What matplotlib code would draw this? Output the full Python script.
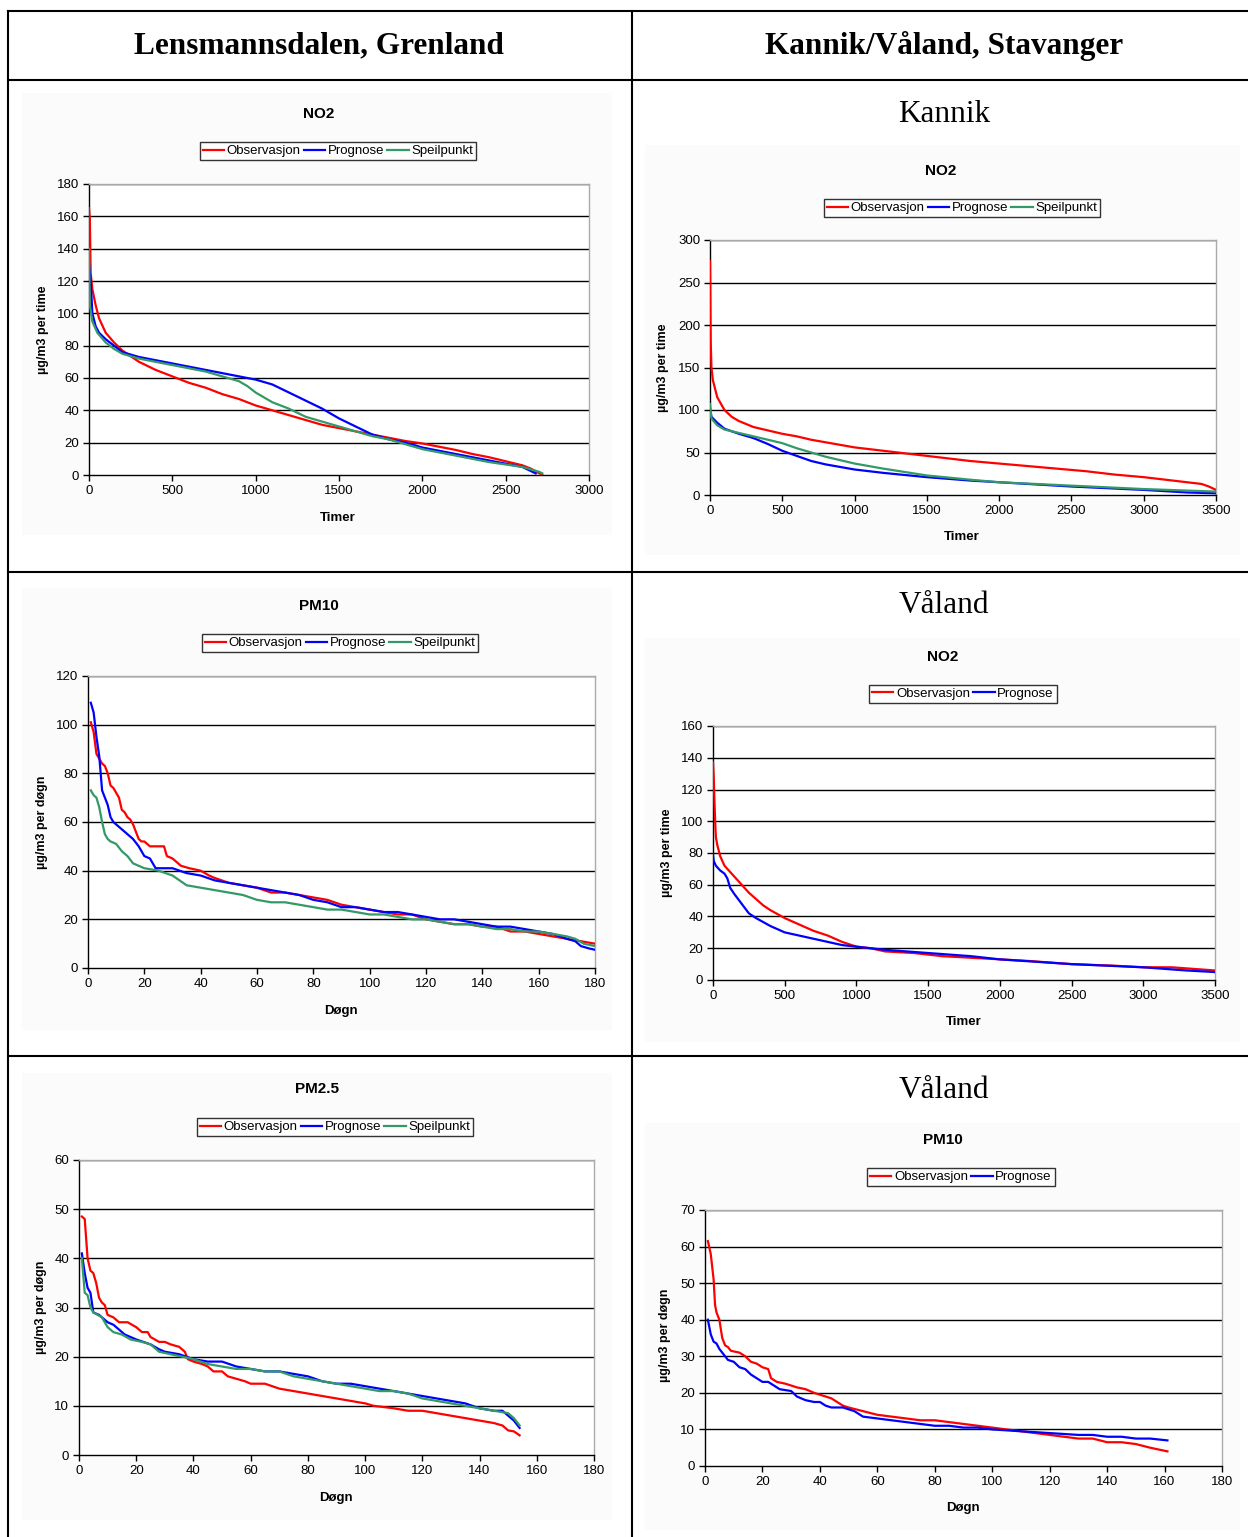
import matplotlib
matplotlib.use("Agg")
import matplotlib.pyplot as plt
from matplotlib.lines import Line2D
from matplotlib.patches import Rectangle

# ---------------- DATA ----------------
# Panel 1: Lensmannsdalen NO2 (Timer)
p1_obs_x = [0, 5, 10, 20, 40, 60, 100, 150, 200, 300, 400, 500, 600, 700, 800, 900, 1000, 1100, 1200, 1300, 1400, 1500, 1600, 1700, 1800, 1900, 2000, 2100, 2200, 2300, 2400, 2500, 2600, 2650, 2720]
p1_obs_y = [165, 158, 125, 115, 105, 97, 88, 82, 77, 70, 65, 61, 57, 54, 50, 47, 43, 40, 37, 34, 31, 29, 27, 25, 23, 21, 19.5, 17.5, 15.5, 13, 11, 8.5, 6, 4, 0]
p1_pro_x = [0, 10, 20, 40, 60, 100, 150, 200, 300, 400, 500, 600, 700, 800, 900, 1000, 1100, 1200, 1300, 1400, 1500, 1600, 1700, 1800, 1900, 2000, 2100, 2200, 2300, 2400, 2500, 2600, 2680]
p1_pro_y = [130, 120, 100, 92, 88, 84, 80, 76, 73, 71, 69, 67, 65, 63, 61, 59, 56, 51, 46, 41, 35, 30, 25, 22, 20, 17, 15, 13, 11, 9, 7, 5, 1]
p1_spe_x = [0, 5, 20, 50, 100, 150, 200, 300, 400, 500, 600, 700, 800, 900, 950, 1000, 1100, 1200, 1300, 1400, 1500, 1600, 1700, 1800, 1900, 2000, 2100, 2200, 2300, 2400, 2500, 2600, 2700, 2720]
p1_spe_y = [140, 105, 95, 88, 82, 78, 75, 72, 70, 68, 66, 64, 61, 58, 55, 51, 45, 41, 36, 33, 30, 27, 24, 22, 19, 16, 14, 12, 10, 8, 6.5, 5, 2, 1]

# Panel 2: Kannik NO2 (Timer)
p2_obs_x = [0, 5, 10, 20, 50, 100, 150, 200, 300, 400, 500, 600, 700, 800, 900, 1000, 1200, 1400, 1600, 1800, 2000, 2200, 2400, 2600, 2800, 3000, 3200, 3400, 3450, 3500]
p2_obs_y = [275, 180, 150, 135, 115, 100, 92, 87, 80, 76, 72, 69, 65, 62, 59, 56, 52, 48, 44, 40, 37, 34, 31, 28, 24, 21, 17, 13, 10, 6]
p2_pro_x = [0, 10, 50, 100, 200, 300, 400, 500, 600, 700, 800, 1000, 1200, 1500, 1800, 2000, 2500, 3000, 3300, 3500]
p2_pro_y = [102, 92, 85, 78, 72, 67, 60, 52, 46, 40, 36, 30, 26, 21, 17, 15, 10, 6, 3, 2]
p2_spe_x = [0, 10, 50, 100, 200, 300, 400, 500, 600, 700, 800, 1000, 1200, 1500, 1800, 2000, 2500, 3000, 3500]
p2_spe_y = [107, 90, 82, 77, 73, 69, 65, 61, 55, 50, 45, 37, 31, 23, 18, 15, 11, 7, 4]

# Panel 3: Lensmannsdalen PM10 (Døgn)
p3_obs_x = [1, 2, 3, 4, 5, 6, 7, 8, 9, 10, 11, 12, 13, 14, 15, 16, 17, 18, 19, 20, 22, 27, 28, 30, 33, 36, 40, 43, 45, 50, 55, 60, 65, 70, 75, 80, 85, 90, 95, 100, 105, 110, 115, 120, 125, 130, 135, 140, 145, 150, 155, 160, 165, 170, 175, 180]
p3_obs_y = [101, 97, 88, 86, 84, 83, 80, 75, 74, 72, 70, 65, 64, 62, 61, 59, 56, 53, 52, 52, 50, 50, 46, 45, 42, 41, 40, 38, 37, 35, 34, 33, 31, 31, 30, 29, 28, 26, 25, 24, 23, 22, 22, 20, 19, 18, 18, 17, 17, 15, 15, 14, 13, 12, 11, 10]
p3_pro_x = [1, 2, 3, 4, 5, 6, 7, 8, 9, 10, 12, 14, 16, 18, 20, 22, 24, 26, 28, 30, 35, 40, 45, 50, 55, 60, 65, 70, 75, 80, 85, 90, 95, 100, 105, 110, 115, 120, 125, 130, 135, 140, 145, 150, 155, 160, 165, 170, 173, 175, 178, 180]
p3_pro_y = [109, 105, 95, 87, 73, 70, 67, 62, 60, 59, 57, 55, 53, 50, 46, 45, 41, 41, 41, 41, 39, 38, 36, 35, 34, 33, 32, 31, 30, 28, 27, 25, 25, 24, 23, 23, 22, 21, 20, 20, 19, 18, 17, 17, 16, 15, 14, 12, 11, 9, 8, 7.5]
p3_spe_x = [1, 2, 3, 4, 5, 6, 7, 8, 10, 12, 14, 16, 18, 20, 25, 30, 35, 40, 45, 50, 55, 60, 65, 70, 75, 80, 85, 90, 95, 100, 105, 110, 115, 120, 125, 130, 135, 140, 145, 150, 155, 160, 165, 170, 173, 176, 180]
p3_spe_y = [73, 71, 70, 66, 60, 55, 53, 52, 51, 48, 46, 43, 42, 41, 40, 38, 34, 33, 32, 31, 30, 28, 27, 27, 26, 25, 24, 24, 23, 22, 22, 21, 20, 20, 19, 18, 18, 17, 16, 16, 15, 15, 14, 13, 12, 10, 9]

# Panel 4: Våland NO2 (Timer)
p4_obs_x = [0, 5, 10, 15, 20, 30, 50, 80, 100, 150, 200, 250, 300, 350, 400, 500, 600, 700, 800, 900, 1000, 1100, 1200, 1400, 1600, 1800, 2000, 2200, 2500, 2800, 3000, 3200, 3500]
p4_obs_y = [137, 128, 113, 100, 90, 85, 78, 72, 70, 65, 60, 55, 51, 47, 44, 39, 35, 31, 28, 24, 21, 20, 18, 17, 15, 14, 13, 12, 10, 9, 8, 8, 6]
p4_pro_x = [0, 5, 20, 50, 80, 100, 120, 150, 200, 250, 300, 400, 500, 600, 700, 800, 900, 1000, 1200, 1500, 1800, 2000, 2500, 3000, 3300, 3500]
p4_pro_y = [79, 75, 72, 69, 67, 64, 58, 54, 48, 42, 39, 34, 30, 28, 26, 24, 22, 21, 19, 17, 15, 13, 10, 8, 6, 5]

# Panel 5: Lensmannsdalen PM2.5 (Døgn)
p5_obs_x = [1, 2, 3, 4, 5, 6, 7, 8, 9, 10, 12, 14, 17, 20, 22, 24, 25, 28, 30, 32, 35, 37, 38, 40, 43, 45, 47, 50, 52, 55, 58, 60, 65, 70, 75, 80, 85, 90, 95, 100, 103, 110, 115, 120, 125, 130, 135, 140, 145, 148, 150, 152, 154]
p5_obs_y = [48.5, 48, 40, 37.5, 37, 35, 32, 31, 30.5, 28.5, 28, 27, 27, 26, 25, 25, 24, 23, 23, 22.5, 22, 21, 19.5, 19, 18.5, 18, 17, 17, 16, 15.5, 15, 14.5, 14.5, 13.5, 13, 12.5, 12, 11.5, 11, 10.5, 10, 9.5, 9, 9, 8.5, 8, 7.5, 7, 6.5, 6, 5, 4.8, 4]
p5_pro_x = [1, 2, 3, 4, 5, 7, 10, 12, 14, 16, 18, 20, 25, 28, 30, 35, 40, 45, 50, 55, 60, 65, 70, 75, 80, 85, 90, 95, 100, 105, 110, 115, 120, 125, 130, 135, 140, 145, 148, 150, 152, 154]
p5_pro_y = [41, 37, 34, 33, 29, 28.5, 27, 26.5, 25.5, 24.5, 24, 23.5, 22.5, 21.5, 21, 20.5, 19.5, 19, 19, 18, 17.5, 17, 17, 16.5, 16, 15, 14.5, 14.5, 14, 13.5, 13, 12.5, 12, 11.5, 11, 10.5, 9.5, 9, 9, 8, 7, 5.5]
p5_spe_x = [1, 2, 3, 4, 5, 8, 10, 12, 15, 18, 22, 25, 28, 32, 36, 40, 45, 50, 55, 60, 65, 70, 75, 80, 85, 90, 95, 100, 105, 110, 115, 120, 125, 130, 135, 140, 145, 150, 152, 154]
p5_spe_y = [40, 33, 32.5, 30, 29, 28, 26, 25, 24.5, 23.5, 23, 22.5, 21, 20.5, 20, 19.5, 18.5, 18, 17.5, 17.5, 17, 17, 16, 15.5, 15, 14.5, 14, 13.5, 13, 13, 12.5, 11.5, 11, 10.5, 10, 9.5, 9, 8.5, 7.5, 6]

# Panel 6: Våland PM10 (Døgn)
p6_obs_x = [1, 2, 3, 3.5, 4, 5, 6, 7, 8, 9, 12, 14, 16, 18, 20, 22, 23, 25, 28, 30, 32, 35, 38, 40, 42, 44, 46, 48, 50, 55, 60, 65, 70, 75, 80, 85, 90, 95, 100, 105, 110, 115, 120, 125, 130, 135, 140, 145, 150, 155, 158, 161]
p6_obs_y = [61.5, 58, 51, 44, 42, 40, 35, 33, 32.5, 31.5, 31, 30, 28.5, 28, 27, 26.5, 24, 23, 22.5, 22, 21.5, 21, 20, 19.5, 19, 18.5, 17.5, 16.5, 16, 15, 14, 13.5, 13, 12.5, 12.5, 12, 11.5, 11, 10.5, 10, 9.5, 9, 8.5, 8, 7.5, 7.5, 6.5, 6.5, 6, 5, 4.5, 4]
p6_pro_x = [1, 2, 3, 4, 5, 6, 7, 8, 10, 12, 14, 16, 18, 20, 22, 24, 26, 30, 32, 35, 38, 40, 42, 44, 48, 50, 52, 55, 60, 65, 70, 75, 80, 85, 90, 95, 100, 110, 120, 130, 135, 140, 145, 150, 155, 161]
p6_pro_y = [40, 36, 34, 33.5, 32, 31, 30, 29, 28.5, 27, 26.5, 25, 24, 23, 23, 22, 21, 20.5, 19, 18, 17.5, 17.5, 16.5, 16, 16, 15.5, 15, 13.5, 13, 12.5, 12, 11.5, 11, 11, 10.5, 10.5, 10, 9.5, 9, 8.5, 8.5, 8, 8, 7.5, 7.5, 7]

labels = ["Observasjon", "Prognose", "Speilpunkt"]
colors = ["#ff0000", "#0000ff", "#339966"]

# ---------------- LAYOUT ----------------
W, H = 1248, 1537
fig = plt.figure(figsize=(W / 100, H / 100), dpi=100)
fig.patch.set_facecolor("white")
SANS = ["Liberation Sans", "DejaVu Sans"]
SERIF = ["Liberation Serif", "DejaVu Serif"]


def fx(x):
    return x / W


def fy(y):
    return 1 - y / H


def hline(y, x0, x1, lw=1.5):
    fig.add_artist(Line2D([fx(x0), fx(x1)], [fy(y), fy(y)], color="black", lw=lw))


def vline(x, y0, y1, lw=1.5):
    fig.add_artist(Line2D([fx(x), fx(x)], [fy(y0), fy(y1)], color="black", lw=lw))


# table grid
for yy in [11, 80, 572, 1056]:
    hline(yy, 8, 1248)
vline(8, 11, 1537)
vline(632, 11, 1537)

fig.text(fx(319), fy(46), "Lensmannsdalen, Grenland", family=SERIF, weight="bold",
         fontsize=22.5, ha="center", va="center")
fig.text(fx(944), fy(46), "Kannik/Våland, Stavanger", family=SERIF, weight="bold",
         fontsize=22.5, ha="center", va="center")


def panel(box, bg, series, xmax, xstep, ymax, ystep, title, title_xy, leg_xy,
          ylabel, ylab_xy, xlabel, xlab_xy, sub=None, sub_xy=None):
    # chart area background
    bx0, by0, bx1, by1 = bg
    fig.add_artist(Rectangle((fx(bx0), fy(by1)), fx(bx1 - bx0), (by1 - by0) / H,
                             facecolor="#fbfbfb", edgecolor="none", zorder=0))
    l, t, r, b = box
    ax = fig.add_axes([fx(l), fy(b), fx(r - l), (b - t) / H])
    ax.set_facecolor("white")
    handles = []
    for (xs, ys), lab, col in zip(series, labels, colors):
        h, = ax.plot(xs, ys, color=col, lw=1.6, label=lab, zorder=3)
        handles.append(h)
    ax.set_xlim(0, xmax)
    ax.set_ylim(0, ymax)
    ax.set_xticks(list(range(0, xmax + 1, xstep)))
    ax.set_yticks(list(range(0, ymax + 1, ystep)))
    for yv in range(ystep, ymax + 1, ystep):
        ax.axhline(yv, color="black", lw=1.0, zorder=1)
    ax.spines["left"].set_color("black")
    ax.spines["bottom"].set_color("black")
    ax.spines["top"].set_color("#aaaaaa")
    ax.spines["right"].set_color("#aaaaaa")
    for s in ax.spines.values():
        s.set_linewidth(1.0)
    ax.tick_params(direction="out", length=4, width=1, labelsize=9.5, pad=3)
    for lab in ax.get_xticklabels() + ax.get_yticklabels():
        lab.set_family(SANS)
    fig.text(fx(title_xy[0]), fy(title_xy[1]), title, family=SANS, weight="bold",
             fontsize=11, ha="center", va="center")
    if sub:
        fig.text(fx(sub_xy[0]), fy(sub_xy[1]), sub, family=SERIF, fontsize=22.5,
                 ha="center", va="center")
    fig.text(fx(ylab_xy[0]), fy(ylab_xy[1]), ylabel, family=SANS, weight="bold",
             fontsize=9, ha="center", va="center", rotation=90)
    fig.text(fx(xlab_xy[0]), fy(xlab_xy[1]), xlabel, family=SANS, weight="bold",
             fontsize=9.5, ha="center", va="center")
    leg = fig.legend(handles=handles, loc="center",
                     bbox_to_anchor=(fx(leg_xy[0]), fy(leg_xy[1])),
                     ncol=len(handles), frameon=True, fancybox=False,
                     edgecolor="black", handlelength=1.6,
                     handletextpad=0.2, columnspacing=0.25, borderpad=0.25,
                     borderaxespad=0, prop={"family": SANS, "size": 9.5})
    leg.get_frame().set_linewidth(1.0)
    return ax


panel((89, 184, 589, 475), (22, 93, 612, 535),
      [(p1_obs_x, p1_obs_y), (p1_pro_x, p1_pro_y), (p1_spe_x, p1_spe_y)],
      3000, 500, 180, 20, "NO2", (319, 114), (338, 151),
      "µg/m3 per time", (43, 330), "Timer", (338, 518))

panel((710, 240, 1216, 495), (645, 145, 1240, 555),
      [(p2_obs_x, p2_obs_y), (p2_pro_x, p2_pro_y), (p2_spe_x, p2_spe_y)],
      3500, 500, 300, 50, "NO2", (941, 171), (962, 208),
      "µg/m3 per time", (663, 368), "Timer", (962, 537),
      sub="Kannik", sub_xy=(944, 114))

panel((88, 676, 595, 968), (22, 588, 612, 1030),
      [(p3_obs_x, p3_obs_y), (p3_pro_x, p3_pro_y), (p3_spe_x, p3_spe_y)],
      180, 20, 120, 20, "PM10", (319, 606), (340, 643),
      "µg/m3 per døgn", (42, 822), "Døgn", (341, 1011))

panel((713, 726, 1215, 980), (645, 638, 1240, 1042),
      [(p4_obs_x, p4_obs_y), (p4_pro_x, p4_pro_y)],
      3500, 500, 160, 20, "NO2", (943, 657), (963, 694),
      "µg/m3 per time", (667, 853), "Timer", (964, 1022),
      sub="Våland", sub_xy=(944, 606))

panel((79, 1160, 594, 1455), (22, 1073, 612, 1520),
      [(p5_obs_x, p5_obs_y), (p5_pro_x, p5_pro_y), (p5_spe_x, p5_spe_y)],
      180, 20, 60, 10, "PM2.5", (317, 1089), (335, 1127),
      "µg/m3 per døgn", (41, 1307), "Døgn", (336, 1498))

panel((705, 1210, 1222, 1466), (645, 1123, 1240, 1530),
      [(p6_obs_x, p6_obs_y), (p6_pro_x, p6_pro_y)],
      180, 20, 70, 10, "PM10", (943, 1140), (961, 1177),
      "µg/m3 per døgn", (665, 1335), "Døgn", (963, 1508),
      sub="Våland", sub_xy=(944, 1091))

fig.savefig("out.png", dpi=100)
